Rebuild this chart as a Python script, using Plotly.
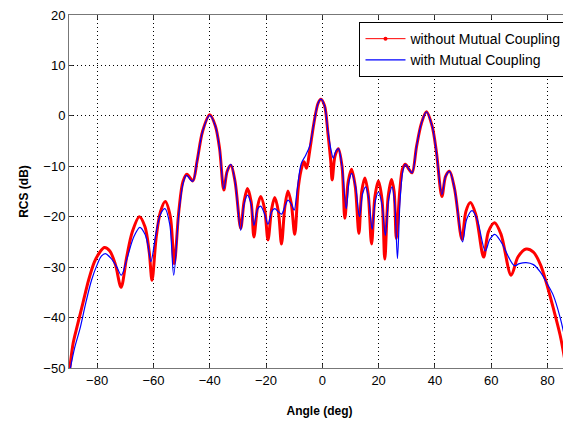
import plotly.graph_objects as go

# Without mutual coupling (red)
red_angle = [-89.7, -88.5, -87, -85, -83, -81, -79, -77.4, -75.5, -73.5, -71.5, -69.5, -67.5, -65, -63, -61.5, -60.5,
             -59, -57.5, -55.8, -54, -52.6, -51, -49.5, -48.1, -46, -44.5, -42.5, -40, -38, -36.5, -35, -33.8, -32.5,
             -31, -29, -27.8, -26.6, -25.3, -24.3, -23, -21.9, -20.5, -19.3, -18, -16.9, -15.6, -14.5, -13.3, -12.2,
             -11, -9.8, -8.5, -7.2, -6.5, -5.6, -4.5, -3, -1.5, -0.5, 0.8, 2, 3, 3.5, 4.5, 5.7, 7, 8, 9.2, 10.4, 11.7,
             13, 14, 15.1, 16.3, 17.5, 18.7, 19.9, 21.2, 22.2, 23.4, 24.6, 25.5, 26.3, 27.5, 28.5, 29.5, 30.8, 31.9,
             33.5, 35.2, 37, 39, 40.5, 42.5, 43.8, 45.2, 47, 49.6, 51, 52.6, 54.5, 57.3, 59, 61.2, 63.5, 67.1, 69.5,
             72.4, 75, 77.5, 79.5, 82, 84.5, 86.6]
red_rcs = [-50, -45, -41.5, -37, -32.5, -29, -27, -26.1, -26.8, -29.5, -34, -28, -23, -20, -22, -27, -32.6,
           -24, -19, -17, -20, -29.3, -19, -13, -11.6, -12.9, -9, -3, 0.2, -2, -6.5, -14.7, -11, -9.8,
           -13, -22.3, -17, -14.4, -17, -24, -18, -16, -18.5, -24.6, -18.5, -16.2, -19, -25.4, -18, -14.9,
           -17.5, -23.5, -14, -10, -9.1, -10.4, -7, -1.5, 2.5, 3.3, 2, -3.5, -9, -12.7, -8, -6.5, -10, -20.3, -13, -10.6, -14,
           -23.3, -15, -12.3, -15.5, -25.4, -16, -12.9, -16.5, -28.4, -16, -12.6, -15, -24.3, -15, -10.5, -9.6, -10.6, -11.3,
           -6, -1.5, 0.8, -2, -7, -16, -12, -11, -14.5, -24.5, -19, -17.2, -19.5, -28, -23, -21.2, -23.5, -31.6, -28,
           -26.4, -27, -29.5, -32.9, -38, -43.5, -49.8]

# With mutual coupling (blue)
blue_angle = [-89.5, -88, -86, -84, -82, -80, -78.5, -77.1, -75, -73, -71.4, -69.5, -67, -64.8, -63, -62, -60.9,
              -59, -57.5, -55.9, -54.2, -52.8, -51, -49.5, -48.3, -46.1, -44.5, -42.5, -40, -38, -36.5, -35, -33.8,
              -32.5, -31, -29, -27.8, -26.6, -25.3, -24.3, -23, -21.9, -20.5, -19.3, -18, -16.9, -15.6, -14.5, -13.3,
              -12.2, -11, -10, -9, -7.5, -5.9, -4.5, -3, -1.5, -0.5, 0.8, 2, 3, 3.9, 4.8, 5.7, 7, 8.5, 9.5, 10.4, 11.8,
              13.2, 14.3, 15.4, 16.5, 17.7, 18.8, 19.9, 21.2, 22.4, 23.6, 24.8, 25.8, 26.7, 27.6, 28.6, 29.5, 30.8,
              31.9, 33.5, 35.2, 37, 39, 40.5, 42.5, 43.8, 45.2, 47, 49.8, 51.3, 53.2, 55, 57.9, 59.5, 61.3, 63.5, 68.2,
              70, 72.4, 75, 77.5, 79.5, 82, 84.5, 86.5, 88]
blue_rcs = [-50, -46, -42, -37, -32.6, -29.5, -27.8, -27.3, -28.3, -30, -31.6, -28.5, -24, -22.1, -23.5, -25.5, -28.9,
            -23, -19.5, -18.4, -21.5, -31.6, -19.5, -13.5, -11.8, -13, -9, -3, 0.1, -2, -6.5, -14.5, -11,
            -9.6, -13, -22.7, -17.5, -15.7, -17.5, -21.7, -18.5, -17.9, -19.5, -21.5, -19, -18.4, -19, -19.5, -18,
            -16.7, -17.5, -18.7, -15, -9.5, -7.8, -6, -1.5, 2.5, 3.3, 2, -3, -6.5, -8.4, -7, -6.5, -10, -18.4, -13, -11.4, -14,
            -20, -15.5, -14.1, -16.5, -22.5, -17, -15.1, -17.5, -23.7, -16.5, -14.1, -18, -28.3, -17, -11, -9.6, -10.6,
            -11.3, -6, -1.5, 0.8, -2, -7, -15.6, -12, -11, -14.5, -25, -20.5, -18.8, -20.5, -26.8, -24.5, -23.5, -25, -29.7,
            -29.3, -29.1, -29.5, -31, -32.9, -35.5, -40, -45, -50]

x_ticks = [-80, -60, -40, -20, 0, 20, 40, 60, 80]
y_ticks = [-50, -40, -30, -20, -10, 0, 10, 20]

fig = go.Figure()
fig.add_trace(go.Scatter(x=red_angle, y=red_rcs, mode="lines", name="without Mutual Coupling",
                         line=dict(color="#ff0000", width=3, shape="spline", smoothing=0.9),
                         showlegend=False, legendgroup="red"))
fig.add_trace(go.Scatter(x=blue_angle, y=blue_rcs, mode="lines", name="with Mutual Coupling",
                         line=dict(color="#0000ff", width=1.2, shape="spline", smoothing=0.9),
                         showlegend=False, legendgroup="blue"))
# legend entries (no data drawn)
fig.add_trace(go.Scatter(x=[None], y=[None], mode="lines+markers", name="without Mutual Coupling",
                         line=dict(color="#ff0000", width=1), marker=dict(color="#ff0000", size=4),
                         legendgroup="red"))
fig.add_trace(go.Scatter(x=[None], y=[None], mode="lines", name="with Mutual Coupling",
                         line=dict(color="#0000ff", width=1.2), legendgroup="blue"))

axis_common = dict(showgrid=True, gridcolor="black", griddash="1px,3px", gridwidth=1,
                   showline=True, linecolor="#777777", linewidth=1, mirror="ticks",
                   ticks="inside", ticklen=4, tickcolor="#333333", zeroline=False, automargin=False,
                   ticklabeloverflow="allow",
                   tickfont=dict(family="Liberation Sans", size=13, color="black"))

fig.update_xaxes(range=[-90, 88], tickvals=x_ticks, **axis_common,
                 title=dict(text="<b>Angle (deg)</b>", font=dict(family="Liberation Sans", size=12, color="black"),
                            standoff=20))
fig.update_yaxes(range=[-50, 20], tickvals=y_ticks, **axis_common,
                 title=dict(text="<b>RCS (dB)</b>", font=dict(family="Liberation Sans", size=12, color="black"),
                            standoff=12))

# page body has an 8px margin, so the figure is sized to fit inside the window
fig.update_layout(width=563, height=414, margin=dict(l=61, r=1, t=7, b=54),
                  plot_bgcolor="white", paper_bgcolor="white",
                  legend=dict(x=0.995, y=0.98, xanchor="right", yanchor="top", bgcolor="white",
                              bordercolor="black", borderwidth=1,
                              font=dict(family="Liberation Sans", size=14, color="black"),
                              tracegroupgap=0, itemwidth=40),
                  showlegend=True)

fig.write_html("out.html")
